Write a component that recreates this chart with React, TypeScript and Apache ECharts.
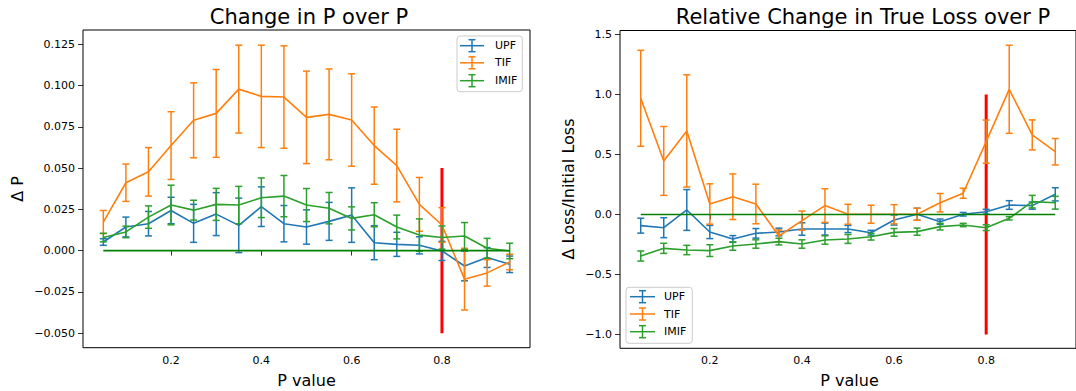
import React, { useEffect, useRef } from "react";
import * as echarts from "echarts";

const pValues = [0.05, 0.1, 0.15, 0.2, 0.25, 0.3, 0.35, 0.4, 0.45, 0.5, 0.55, 0.6, 0.65, 0.7, 0.75, 0.8, 0.85, 0.9, 0.95];

const upfDP = [0.0052, 0.0143, 0.0163, 0.0243, 0.0165, 0.0221, 0.0153, 0.0266, 0.0163, 0.0143, 0.0177, 0.0215, 0.0048, 0.0038, 0.0032, -0.0002, -0.0093, -0.0042, -0.0083];
const upfDPErr = [0.002, 0.006, 0.0074, 0.008, 0.0115, 0.013, 0.0165, 0.012, 0.011, 0.0104, 0.0115, 0.0165, 0.0103, 0.0073, 0.0052, 0.0058, 0.009, 0.006, 0.005];
const tifDP = [0.0173, 0.0411, 0.0477, 0.0636, 0.0789, 0.0831, 0.0978, 0.0934, 0.093, 0.0807, 0.0825, 0.0791, 0.0636, 0.0515, 0.028, 0.0155, -0.0173, -0.0135, -0.0069];
const tifDPErr = [0.007, 0.0113, 0.0147, 0.0205, 0.0227, 0.0266, 0.0266, 0.031, 0.031, 0.028, 0.0275, 0.028, 0.0234, 0.022, 0.0163, 0.0105, 0.0187, 0.008, 0.0047];
const imifDP = [0.0079, 0.0113, 0.0203, 0.0276, 0.0245, 0.028, 0.0276, 0.032, 0.033, 0.0276, 0.0257, 0.0195, 0.0217, 0.0143, 0.0094, 0.0079, 0.0088, 0.0014, -0.0002];
const imifDPErr = [0.0026, 0.0035, 0.0068, 0.012, 0.006, 0.0097, 0.0113, 0.012, 0.0125, 0.01, 0.0095, 0.007, 0.0073, 0.0072, 0.0098, 0.007, 0.0082, 0.006, 0.0047];

const upfLoss = [-0.093, -0.11, 0.0375, -0.146, -0.204, -0.157, -0.146, -0.121, -0.121, -0.121, -0.152, -0.046, 0.002, -0.06, 0.002, 0.023, 0.079, 0.074, 0.168];
const upfLossErr = [0.062, 0.083, 0.17, 0.055, 0.028, 0.04, 0.032, 0.052, 0.05, 0.03, 0.02, 0.042, 0.05, 0.022, 0.015, 0.02, 0.036, 0.03, 0.055];
const tifLoss = [0.968, 0.446, 0.696, 0.0875, 0.148, 0.0875, -0.179, -0.051, 0.074, 0.002, 0.002, 0.002, 0.002, 0.098, 0.177, 0.607, 1.043, 0.663, 0.523];
const tifLossErr = [0.4, 0.287, 0.468, 0.168, 0.19, 0.165, 0.05, 0.08, 0.14, 0.083, 0.075, 0.08, 0.05, 0.077, 0.042, 0.18, 0.367, 0.125, 0.11];
const imifLoss = [-0.346, -0.282, -0.296, -0.301, -0.263, -0.246, -0.226, -0.246, -0.2125, -0.204, -0.185, -0.149, -0.143, -0.101, -0.0875, -0.11, -0.032, 0.107, 0.098];
const imifLossErr = [0.042, 0.042, 0.039, 0.049, 0.035, 0.035, 0.028, 0.035, 0.035, 0.037, 0.028, 0.032, 0.03, 0.028, 0.014, 0.024, 0.014, 0.052, 0.053];

const seriesNames = ["UPF", "TIF", "IMIF"];
const seriesColors = ["#1f77b4", "#ff7f0e", "#2ca02c"];
const threshold = 0.8;
const thresholdRangeDP = [-0.05, 0.05];
const thresholdRangeLoss = [-1, 1];
const xTicks = [0.2, 0.4, 0.6, 0.8];
const yTicksDP = [-0.05, -0.025, 0, 0.025, 0.05, 0.075, 0.1, 0.125];
const yTicksLoss = [-1, -0.5, 0, 0.5, 1, 1.5];

const FONT = "DejaVu Sans";
const fmt = (v: number, d: number) => {
  const s = Math.abs(v).toFixed(d);
  return v < -1e-12 ? "\u2212" + s : s;
};

function errSeries(vals: number[], errs: number[], color: string, gi: number, z: number) {
  return {
    type: "custom",
    xAxisIndex: gi,
    yAxisIndex: gi,
    z,
    encode: { x: 0, y: [1, 2] },
    data: pValues.map((p, i) => [p, vals[i] - errs[i], vals[i] + errs[i]]),
    renderItem: (params: any, api: any) => {
      const x = api.value(0);
      const p1 = api.coord([x, api.value(2)]);
      const p2 = api.coord([x, api.value(1)]);
      const cw = 3.5;
      const st = { stroke: color, lineWidth: 1.5 };
      return {
        type: "group",
        children: [
          { type: "line", shape: { x1: p1[0], y1: p1[1], x2: p2[0], y2: p2[1] }, style: st },
          { type: "line", shape: { x1: p1[0] - cw, y1: p1[1], x2: p1[0] + cw, y2: p1[1] }, style: st },
          { type: "line", shape: { x1: p2[0] - cw, y1: p2[1], x2: p2[0] + cw, y2: p2[1] }, style: st },
        ],
      };
    },
  };
}

function lineSeries(vals: number[], color: string, gi: number, z: number) {
  return {
    type: "line",
    xAxisIndex: gi,
    yAxisIndex: gi,
    z,
    symbol: "none",
    lineStyle: { color, width: 1.6 },
    data: pValues.map((p, i) => [p, vals[i]]),
  };
}

function legend(x: number, y: number, w: number, h: number, rowsY: number[], iconX1: number, iconX2: number, textX: number) {
  const children: any[] = [
    { type: "rect", shape: { x, y, width: w, height: h, r: 3 }, style: { fill: "rgba(255,255,255,0.8)", stroke: "#cccccc", lineWidth: 1 } },
  ];
  rowsY.forEach((ry, i) => {
    const c = seriesColors[i];
    const cx = (iconX1 + iconX2) / 2;
    const st = { stroke: c, lineWidth: 1.5 };
    children.push({ type: "line", shape: { x1: iconX1, y1: ry, x2: iconX2, y2: ry }, style: st });
    children.push({ type: "line", shape: { x1: cx, y1: ry - 6, x2: cx, y2: ry + 6 }, style: st });
    children.push({ type: "line", shape: { x1: cx - 3.5, y1: ry - 6, x2: cx + 3.5, y2: ry - 6 }, style: st });
    children.push({ type: "line", shape: { x1: cx - 3.5, y1: ry + 6, x2: cx + 3.5, y2: ry + 6 }, style: st });
    children.push({ type: "text", x: textX, y: ry, style: { text: seriesNames[i], fill: "#000", font: `11px "${FONT}"`, textAlign: "left", textVerticalAlign: "middle" } });
  });
  return { type: "group", z: 100, children };
}

function textEl(text: string, x: number, y: number, size: number, rotation = 0) {
  return { type: "text", x, y, rotation, style: { text, fill: "#000", font: `${size}px "${FONT}"`, textAlign: "center", textVerticalAlign: "middle" } };
}

export default function App() {
  const ref = useRef<HTMLDivElement>(null);
  useEffect(() => {
    if (!ref.current) return;
    const chart = echarts.init(ref.current, undefined, { renderer: "svg" });
    const axisCommon = {
      type: "value",
      splitLine: { show: false },
      axisLine: { show: false },
      axisTick: { show: true, length: 5, lineStyle: { color: "#000", width: 0.8 } },
    };
    const labelStyle = { color: "#000", fontFamily: FONT, fontSize: 11 };
    const option: any = {
      animation: false,
      backgroundColor: "#fff",
      grid: [
        { left: 83, top: 30, width: 447, height: 317.7, show: true, borderColor: "#000", borderWidth: 1, backgroundColor: "transparent", containLabel: false },
        { left: 620, top: 30.5, width: 459, height: 317.8, show: true, borderColor: "#000", borderWidth: 1, backgroundColor: "transparent", containLabel: false },
      ],
      xAxis: [0, 1].map((gi) => ({
        ...axisCommon,
        gridIndex: gi,
        min: 0.005,
        max: 0.995,
        axisTick: { ...axisCommon.axisTick, customValues: xTicks },
        axisLabel: { ...labelStyle, margin: 7, customValues: xTicks, formatter: (v: number) => fmt(v, 1) },
      })),
      yAxis: [
        {
          ...axisCommon,
          gridIndex: 0,
          min: -0.0588,
          max: 0.1336,
          axisTick: { ...axisCommon.axisTick, customValues: yTicksDP },
          axisLabel: { ...labelStyle, margin: 8, customValues: yTicksDP, formatter: (v: number) => fmt(v, 3) },
        },
        {
          ...axisCommon,
          gridIndex: 1,
          min: -1.115,
          max: 1.533,
          axisTick: { ...axisCommon.axisTick, customValues: yTicksLoss },
          axisLabel: { ...labelStyle, margin: 8, customValues: yTicksLoss, formatter: (v: number) => fmt(v, 1) },
        },
      ],
      series: [
        {
          type: "line", xAxisIndex: 0, yAxisIndex: 0, z: 1, symbol: "none",
          lineStyle: { color: "#ff0000", width: 3 },
          data: [[threshold, thresholdRangeDP[0]], [threshold, thresholdRangeDP[1]]],
        },
        {
          type: "line", xAxisIndex: 1, yAxisIndex: 1, z: 1, symbol: "none",
          lineStyle: { color: "#ff0000", width: 3 },
          data: [[threshold, thresholdRangeLoss[0]], [threshold, thresholdRangeLoss[1]]],
        },
        errSeries(upfDP, upfDPErr, seriesColors[0], 0, 2),
        lineSeries(upfDP, seriesColors[0], 0, 3),
        errSeries(tifDP, tifDPErr, seriesColors[1], 0, 4),
        lineSeries(tifDP, seriesColors[1], 0, 5),
        errSeries(imifDP, imifDPErr, seriesColors[2], 0, 6),
        lineSeries(imifDP, seriesColors[2], 0, 7),
        {
          type: "line", xAxisIndex: 0, yAxisIndex: 0, z: 8, symbol: "none",
          lineStyle: { color: "#008000", width: 1.6 },
          data: [[pValues[0], 0], [pValues[pValues.length - 1], 0]],
        },
        errSeries(upfLoss, upfLossErr, seriesColors[0], 1, 2),
        lineSeries(upfLoss, seriesColors[0], 1, 3),
        errSeries(tifLoss, tifLossErr, seriesColors[1], 1, 4),
        lineSeries(tifLoss, seriesColors[1], 1, 5),
        errSeries(imifLoss, imifLossErr, seriesColors[2], 1, 6),
        lineSeries(imifLoss, seriesColors[2], 1, 7),
        {
          type: "line", xAxisIndex: 1, yAxisIndex: 1, z: 8, symbol: "none",
          lineStyle: { color: "#008000", width: 1.6 },
          data: [[pValues[0], 0], [pValues[pValues.length - 1], 0]],
        },
      ],
      graphic: [
        textEl("Change in P over P", 309, 17, 21),
        textEl("Relative Change in True Loss over P", 863, 17, 21),
        textEl("P value", 306.5, 380, 16),
        textEl("P value", 849.5, 380, 16),
        textEl("\u0394 P", 17, 189, 16, Math.PI / 2),
        textEl("\u0394 Loss/Initial Loss", 568, 189, 16, Math.PI / 2),
        legend(457, 36, 65.3, 55.7, [45.7, 62.8, 80.7], 460, 484, 495),
        legend(626, 287.3, 66.3, 56, [296.7, 314, 331.7], 630, 655, 664),
      ],
    };
    chart.setOption(option);
    return () => chart.dispose();
  }, []);
  return <div ref={ref} style={{ position: "fixed", left: 0, top: 0, width: 1076, height: 391 }} />;
}
